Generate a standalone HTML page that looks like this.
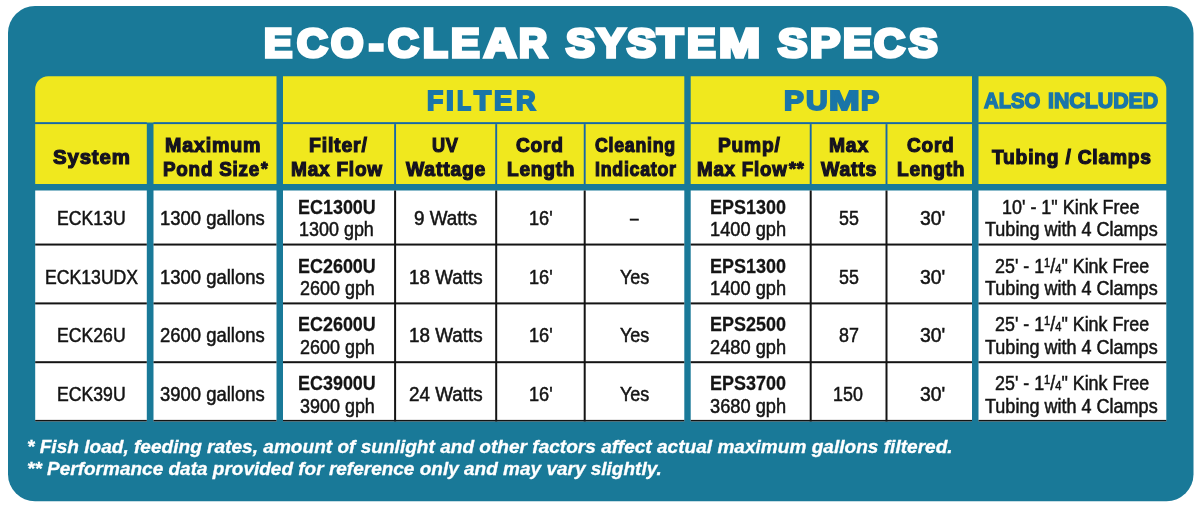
<!DOCTYPE html>
<html><head><meta charset="utf-8"><title>Eco-Clear System Specs</title>
<style>
html,body{margin:0;padding:0;background:#fff;}
body{width:1200px;height:508px;position:relative;overflow:hidden;font-family:"Liberation Sans",sans-serif;}
body>div{position:absolute;}
.t{will-change:transform;}
.t{line-height:1;white-space:nowrap;color:#141414;}
.t>span{display:inline-block;transform-origin:0 0;}
.hv{font-weight:bold;}
.bb{font-weight:bold;}
.fn{font-weight:bold;font-style:italic;}
.fr{font-size:62%;position:relative;top:-0.5em;}
.fd{font-size:62%;}
</style></head><body>
<svg width="1200" height="508" viewBox="0 0 1200 508" style="position:absolute;left:0;top:0;"><rect x="8" y="6" width="1185.5" height="495.2" rx="27" ry="27" fill="#197998"/>
<path d="M35.20,122.50L35.20,89.30A13,13 0 0 1 48.20,76.30L276.50,76.30L276.50,122.50Z" fill="#f0e81e"/>
<path d="M283.00,122.50L283.00,76.30L684.30,76.30L684.30,122.50Z" fill="#f0e81e"/>
<path d="M690.70,122.50L690.70,76.30L972.00,76.30L972.00,122.50Z" fill="#f0e81e"/>
<path d="M978.50,122.50L978.50,76.30L1153.30,76.30A13,13 0 0 1 1166.30,89.30L1166.30,122.50Z" fill="#f0e81e"/>
<rect x="35.20" y="123.90" width="111.60" height="60.10" fill="#f0e81e"/>
<rect x="153.50" y="123.90" width="123.00" height="60.10" fill="#f0e81e"/>
<rect x="283.00" y="123.90" width="401.30" height="60.10" fill="#f0e81e"/>
<rect x="690.70" y="123.90" width="281.30" height="60.10" fill="#f0e81e"/>
<rect x="978.50" y="123.90" width="187.80" height="60.10" fill="#f0e81e"/>
<rect x="35.20" y="122.30" width="111.60" height="1.80" fill="#1667a8"/>
<rect x="153.50" y="122.30" width="123.00" height="1.80" fill="#1667a8"/>
<rect x="283.00" y="122.30" width="401.30" height="1.80" fill="#1667a8"/>
<rect x="690.70" y="122.30" width="281.30" height="1.80" fill="#1667a8"/>
<rect x="978.50" y="122.30" width="187.80" height="1.80" fill="#1667a8"/>
<rect x="394.15" y="124.10" width="1.90" height="59.90" fill="#1667a8"/>
<rect x="495.25" y="124.10" width="1.90" height="59.90" fill="#1667a8"/>
<rect x="583.75" y="124.10" width="1.90" height="59.90" fill="#1667a8"/>
<rect x="809.75" y="124.10" width="1.90" height="59.90" fill="#1667a8"/>
<rect x="885.55" y="124.10" width="1.90" height="59.90" fill="#1667a8"/>
<rect x="35.20" y="190.50" width="111.60" height="230.90" fill="#fff"/>
<rect x="153.50" y="190.50" width="123.00" height="230.90" fill="#fff"/>
<rect x="283.00" y="190.50" width="401.30" height="230.90" fill="#fff"/>
<rect x="690.70" y="190.50" width="281.30" height="230.90" fill="#fff"/>
<rect x="978.50" y="190.50" width="187.80" height="230.90" fill="#fff"/>
<rect x="35.20" y="243.55" width="111.60" height="2.00" fill="#141414"/>
<rect x="153.50" y="243.55" width="123.00" height="2.00" fill="#141414"/>
<rect x="283.00" y="243.55" width="401.30" height="2.00" fill="#141414"/>
<rect x="690.70" y="243.55" width="281.30" height="2.00" fill="#141414"/>
<rect x="978.50" y="243.55" width="187.80" height="2.00" fill="#141414"/>
<rect x="35.20" y="302.40" width="111.60" height="2.00" fill="#141414"/>
<rect x="153.50" y="302.40" width="123.00" height="2.00" fill="#141414"/>
<rect x="283.00" y="302.40" width="401.30" height="2.00" fill="#141414"/>
<rect x="690.70" y="302.40" width="281.30" height="2.00" fill="#141414"/>
<rect x="978.50" y="302.40" width="187.80" height="2.00" fill="#141414"/>
<rect x="35.20" y="361.20" width="111.60" height="2.00" fill="#141414"/>
<rect x="153.50" y="361.20" width="123.00" height="2.00" fill="#141414"/>
<rect x="283.00" y="361.20" width="401.30" height="2.00" fill="#141414"/>
<rect x="690.70" y="361.20" width="281.30" height="2.00" fill="#141414"/>
<rect x="978.50" y="361.20" width="187.80" height="2.00" fill="#141414"/>
<rect x="35.20" y="419.90" width="111.60" height="1.50" fill="#141414"/>
<rect x="153.50" y="419.90" width="123.00" height="1.50" fill="#141414"/>
<rect x="283.00" y="419.90" width="401.30" height="1.50" fill="#141414"/>
<rect x="690.70" y="419.90" width="281.30" height="1.50" fill="#141414"/>
<rect x="978.50" y="419.90" width="187.80" height="1.50" fill="#141414"/>
<rect x="394.10" y="190.50" width="2.00" height="230.90" fill="#141414"/>
<rect x="495.20" y="190.50" width="2.00" height="230.90" fill="#141414"/>
<rect x="583.70" y="190.50" width="2.00" height="230.90" fill="#141414"/>
<rect x="809.70" y="190.50" width="2.00" height="230.90" fill="#141414"/>
<rect x="885.50" y="190.50" width="2.00" height="230.90" fill="#141414"/></svg>
<div class="t hv" style="left:264.21px;top:23.00px;font-size:40.4px;color:#fff;"><span style="transform-origin:0 35.78px;transform:scale(1.0472,1.0129);-webkit-text-stroke:3.6px #fff;">E</span></div>
<div class="t hv" style="left:296.51px;top:23.00px;font-size:40.4px;color:#fff;"><span style="transform-origin:0 35.78px;transform:scale(1.0488,1.0129);-webkit-text-stroke:3.6px #fff;">C</span></div>
<div class="t hv" style="left:331.26px;top:23.00px;font-size:40.4px;color:#fff;"><span style="transform-origin:0 35.78px;transform:scale(1.0315,1.0129);-webkit-text-stroke:3.6px #fff;">O</span></div>
<div class="t hv" style="left:368.77px;top:24.00px;font-size:40.4px;color:#fff;"><span style="transform-origin:0 35.78px;transform:scale(1.0714,1.0129);-webkit-text-stroke:3.6px #fff;">-</span></div>
<div class="t hv" style="left:387.76px;top:23.00px;font-size:40.4px;color:#fff;"><span style="transform-origin:0 35.78px;transform:scale(1.0488,1.0129);-webkit-text-stroke:3.6px #fff;">C</span></div>
<div class="t hv" style="left:423.25px;top:23.00px;font-size:40.4px;color:#fff;"><span style="transform-origin:0 35.78px;transform:scale(1.0000,1.0129);-webkit-text-stroke:3.6px #fff;">L</span></div>
<div class="t hv" style="left:451.10px;top:23.00px;font-size:40.4px;color:#fff;"><span style="transform-origin:0 35.78px;transform:scale(1.0604,1.0129);-webkit-text-stroke:3.6px #fff;">E</span></div>
<div class="t hv" style="left:484.16px;top:23.00px;font-size:40.4px;color:#fff;"><span style="transform-origin:0 35.78px;transform:scale(1.1039,1.0129);-webkit-text-stroke:3.6px #fff;">A</span></div>
<div class="t hv" style="left:519.03px;top:23.00px;font-size:40.4px;color:#fff;"><span style="transform-origin:0 35.78px;transform:scale(0.9642,1.0129);-webkit-text-stroke:3.6px #fff;">R</span></div>
<div class="t hv" style="left:565.82px;top:23.00px;font-size:40.4px;color:#fff;"><span style="transform-origin:0 35.78px;transform:scale(1.0708,1.0129);-webkit-text-stroke:3.6px #fff;">S</span></div>
<div class="t hv" style="left:596.62px;top:23.00px;font-size:40.4px;color:#fff;"><span style="transform-origin:0 35.78px;transform:scale(1.0469,1.0129);-webkit-text-stroke:3.6px #fff;">Y</span></div>
<div class="t hv" style="left:626.68px;top:23.00px;font-size:40.4px;color:#fff;"><span style="transform-origin:0 35.78px;transform:scale(1.0761,1.0129);-webkit-text-stroke:3.6px #fff;">S</span></div>
<div class="t hv" style="left:657.19px;top:23.00px;font-size:40.4px;color:#fff;"><span style="transform-origin:0 35.78px;transform:scale(1.0595,1.0129);-webkit-text-stroke:3.6px #fff;">T</span></div>
<div class="t hv" style="left:687.30px;top:23.00px;font-size:40.4px;color:#fff;"><span style="transform-origin:0 35.78px;transform:scale(1.0623,1.0129);-webkit-text-stroke:3.6px #fff;">E</span></div>
<div class="t hv" style="left:719.09px;top:23.00px;font-size:40.4px;color:#fff;"><span style="transform-origin:0 35.78px;transform:scale(1.2188,1.0129);-webkit-text-stroke:3.6px #fff;">M</span></div>
<div class="t hv" style="left:777.79px;top:23.00px;font-size:40.4px;color:#fff;"><span style="transform-origin:0 35.78px;transform:scale(1.0903,1.0129);-webkit-text-stroke:3.6px #fff;">S</span></div>
<div class="t hv" style="left:809.96px;top:23.00px;font-size:40.4px;color:#fff;"><span style="transform-origin:0 35.78px;transform:scale(1.1215,1.0129);-webkit-text-stroke:3.6px #fff;">P</span></div>
<div class="t hv" style="left:842.50px;top:23.00px;font-size:40.4px;color:#fff;"><span style="transform-origin:0 35.78px;transform:scale(1.0717,1.0129);-webkit-text-stroke:3.6px #fff;">E</span></div>
<div class="t hv" style="left:873.97px;top:23.00px;font-size:40.4px;color:#fff;"><span style="transform-origin:0 35.78px;transform:scale(1.0602,1.0129);-webkit-text-stroke:3.6px #fff;">C</span></div>
<div class="t hv" style="left:908.56px;top:23.00px;font-size:40.4px;color:#fff;"><span style="transform-origin:0 35.78px;transform:scale(1.0619,1.0129);-webkit-text-stroke:3.6px #fff;">S</span></div>
<div class="t hv" style="left:426.77px;top:87.00px;font-size:27.2px;color:#1a75a8;"><span style="transform:scaleX(0.9750);-webkit-text-stroke:2.0px #1a75a8;">F</span></div>
<div class="t hv" style="left:446.12px;top:87.00px;font-size:27.2px;color:#1a75a8;"><span style="transform:scaleX(1.0333);-webkit-text-stroke:2.0px #1a75a8;">I</span></div>
<div class="t hv" style="left:456.87px;top:87.00px;font-size:27.2px;color:#1a75a8;"><span style="transform:scaleX(0.8462);-webkit-text-stroke:2.0px #1a75a8;">L</span></div>
<div class="t hv" style="left:473.87px;top:87.00px;font-size:27.2px;color:#1a75a8;"><span style="transform:scaleX(1.0301);-webkit-text-stroke:2.0px #1a75a8;">T</span></div>
<div class="t hv" style="left:494.25px;top:87.00px;font-size:27.2px;color:#1a75a8;"><span style="transform:scaleX(1.0000);-webkit-text-stroke:2.0px #1a75a8;">E</span></div>
<div class="t hv" style="left:516.15px;top:87.00px;font-size:27.2px;color:#1a75a8;"><span style="transform:scaleX(1.0000);-webkit-text-stroke:2.0px #1a75a8;">R</span></div>
<div class="t hv" style="left:783.78px;top:87.00px;font-size:27.2px;color:#1a75a8;"><span style="transform:scaleX(1.0943);-webkit-text-stroke:2.0px #1a75a8;">P</span></div>
<div class="t hv" style="left:805.95px;top:87.00px;font-size:27.2px;color:#1a75a8;"><span style="transform:scaleX(1.1027);-webkit-text-stroke:2.0px #1a75a8;">U</span></div>
<div class="t hv" style="left:828.99px;top:87.00px;font-size:27.2px;color:#1a75a8;"><span style="transform:scaleX(1.3529);-webkit-text-stroke:2.0px #1a75a8;">M</span></div>
<div class="t hv" style="left:860.50px;top:87.00px;font-size:27.2px;color:#1a75a8;"><span style="transform:scaleX(1.0000);-webkit-text-stroke:2.0px #1a75a8;">P</span></div>
<div class="t hv" style="left:984.36px;top:90.00px;font-size:22.0px;color:#1a75a8;"><span style="transform-origin:0 18.78px;transform:scale(0.9220,1.0219);-webkit-text-stroke:1.5px #1a75a8;">ALSO</span></div>
<div class="t hv" style="left:1048.12px;top:90.00px;font-size:22.0px;color:#1a75a8;"><span style="transform-origin:0 18.78px;transform:scale(0.9699,1.0219);-webkit-text-stroke:1.5px #1a75a8;">INCLUDED</span></div>
<div class="t hv" style="left:53.06px;top:148.00px;font-size:19.6px;color:#15121f;"><span style="transform-origin:0 16.53px;transform:scale(1.0422,1.0318);-webkit-text-stroke:1.15px #15121f;letter-spacing:0.8px;">System</span></div>
<div class="t hv" style="left:165.20px;top:136.00px;font-size:19.6px;color:#15121f;"><span style="transform-origin:0 16.53px;transform:scale(1.0027,1.0318);-webkit-text-stroke:1.15px #15121f;letter-spacing:0.8px;">Maximum</span></div>
<div class="t hv" style="left:163.12px;top:160.00px;font-size:19.6px;color:#15121f;"><span style="transform-origin:0 16.53px;transform:scale(0.9618,1.0318);-webkit-text-stroke:1.15px #15121f;letter-spacing:0.8px;">Pond Size</span></div>
<div class="t hv" style="left:308.50px;top:136.00px;font-size:19.6px;color:#15121f;"><span style="transform-origin:0 16.53px;transform:scale(0.9940,1.0318);-webkit-text-stroke:1.15px #15121f;letter-spacing:0.8px;">Filter/</span></div>
<div class="t hv" style="left:290.81px;top:160.00px;font-size:19.6px;color:#15121f;"><span style="transform-origin:0 16.53px;transform:scale(0.9713,1.0318);-webkit-text-stroke:1.15px #15121f;letter-spacing:0.8px;">Max Flow</span></div>
<div class="t hv" style="left:432.34px;top:136.00px;font-size:19.6px;color:#15121f;"><span style="transform-origin:0 16.53px;transform:scale(0.9274,1.0318);-webkit-text-stroke:1.15px #15121f;letter-spacing:0.8px;">UV</span></div>
<div class="t hv" style="left:406.14px;top:160.00px;font-size:19.6px;color:#15121f;"><span style="transform-origin:0 16.53px;transform:scale(0.9889,1.0318);-webkit-text-stroke:1.15px #15121f;letter-spacing:0.8px;">Wattage</span></div>
<div class="t hv" style="left:516.46px;top:136.00px;font-size:19.6px;color:#15121f;"><span style="transform-origin:0 16.53px;transform:scale(0.9757,1.0318);-webkit-text-stroke:1.15px #15121f;letter-spacing:0.8px;">Cord</span></div>
<div class="t hv" style="left:507.11px;top:160.00px;font-size:19.6px;color:#15121f;"><span style="transform-origin:0 16.53px;transform:scale(0.9744,1.0318);-webkit-text-stroke:1.15px #15121f;letter-spacing:0.8px;">Length</span></div>
<div class="t hv" style="left:594.67px;top:136.00px;font-size:19.6px;color:#15121f;"><span style="transform-origin:0 16.53px;transform:scale(0.9063,1.0318);-webkit-text-stroke:1.15px #15121f;letter-spacing:0.8px;">Cleaning</span></div>
<div class="t hv" style="left:594.95px;top:160.00px;font-size:19.6px;color:#15121f;"><span style="transform-origin:0 16.53px;transform:scale(0.9090,1.0318);-webkit-text-stroke:1.15px #15121f;letter-spacing:0.8px;">Indicator</span></div>
<div class="t hv" style="left:717.91px;top:136.00px;font-size:19.6px;color:#15121f;"><span style="transform-origin:0 16.53px;transform:scale(0.9794,1.0318);-webkit-text-stroke:1.15px #15121f;letter-spacing:0.8px;">Pump/</span></div>
<div class="t hv" style="left:696.82px;top:160.00px;font-size:19.6px;color:#15121f;"><span style="transform-origin:0 16.53px;transform:scale(0.9574,1.0318);-webkit-text-stroke:1.15px #15121f;letter-spacing:0.8px;">Max Flow</span></div>
<div class="t hv" style="left:829.11px;top:136.00px;font-size:19.6px;color:#15121f;"><span style="transform-origin:0 16.53px;transform:scale(0.9850,1.0318);-webkit-text-stroke:1.15px #15121f;letter-spacing:0.8px;">Max</span></div>
<div class="t hv" style="left:821.14px;top:160.00px;font-size:19.6px;color:#15121f;"><span style="transform-origin:0 16.53px;transform:scale(0.9929,1.0318);-webkit-text-stroke:1.15px #15121f;letter-spacing:0.8px;">Watts</span></div>
<div class="t hv" style="left:906.86px;top:136.00px;font-size:19.6px;color:#15121f;"><span style="transform-origin:0 16.53px;transform:scale(0.9714,1.0318);-webkit-text-stroke:1.15px #15121f;letter-spacing:0.8px;">Cord</span></div>
<div class="t hv" style="left:897.11px;top:160.00px;font-size:19.6px;color:#15121f;"><span style="transform-origin:0 16.53px;transform:scale(0.9744,1.0318);-webkit-text-stroke:1.15px #15121f;letter-spacing:0.8px;">Length</span></div>
<div class="t hv" style="left:991.99px;top:148.00px;font-size:19.6px;color:#15121f;"><span style="transform-origin:0 16.53px;transform:scale(0.9809,1.0318);-webkit-text-stroke:1.15px #15121f;letter-spacing:0.8px;">Tubing / Clamps</span></div>
<div class="t hv" style="left:260.99px;top:160.00px;font-size:18.6px;color:#15121f;"><span style="transform:scaleX(0.9257);-webkit-text-stroke:1.15px #15121f;letter-spacing:0.8px;">*</span></div>
<div class="t hv" style="left:789.13px;top:160.00px;font-size:18.6px;color:#15121f;"><span style="transform:scaleX(0.9672);-webkit-text-stroke:1.15px #15121f;letter-spacing:0.8px;">**</span></div>
<div class="t bd" style="left:57.26px;top:209.00px;font-size:19.4px;"><span style="transform-origin:0 16.24px;transform:scale(0.9096,0.9966);-webkit-text-stroke:0.5px #141414;">ECK13U</span></div>
<div class="t bd" style="left:160.15px;top:209.00px;font-size:19.4px;"><span style="transform-origin:0 16.24px;transform:scale(0.9521,0.9966);-webkit-text-stroke:0.5px #141414;">1300 gallons</span></div>
<div class="t bd bb" style="left:297.77px;top:198.00px;font-size:19.4px;"><span style="transform-origin:0 16.25px;transform:scale(0.9252,1.0149);-webkit-text-stroke:0.25px #141414;">EC1300U</span></div>
<div class="t bd" style="left:299.27px;top:220.00px;font-size:19.4px;"><span style="transform-origin:0 16.24px;transform:scale(0.9253,0.9966);-webkit-text-stroke:0.5px #141414;">1300 gph</span></div>
<div class="t bd" style="left:414.01px;top:209.00px;font-size:19.4px;"><span style="transform-origin:0 16.24px;transform:scale(0.9712,0.9966);-webkit-text-stroke:0.5px #141414;">9 Watts</span></div>
<div class="t bd" style="left:529.36px;top:209.00px;font-size:19.4px;"><span style="transform-origin:0 16.24px;transform:scale(0.9362,0.9966);-webkit-text-stroke:0.5px #141414;">16'</span></div>
<div class="t bd" style="left:630.00px;top:209.00px;font-size:19.4px;"><span style="transform-origin:0 16.24px;transform:scale(0.8000,0.9966);-webkit-text-stroke:0.5px #141414;">–</span></div>
<div class="t bd bb" style="left:710.47px;top:198.00px;font-size:19.4px;"><span style="transform-origin:0 16.25px;transform:scale(0.9271,1.0149);-webkit-text-stroke:0.25px #141414;">EPS1300</span></div>
<div class="t bd" style="left:709.86px;top:220.00px;font-size:19.4px;"><span style="transform-origin:0 16.24px;transform:scale(0.9405,0.9966);-webkit-text-stroke:0.5px #141414;">1400 gph</span></div>
<div class="t bd" style="left:838.54px;top:209.00px;font-size:19.4px;"><span style="transform-origin:0 16.24px;transform:scale(0.9220,0.9966);-webkit-text-stroke:0.5px #141414;">55</span></div>
<div class="t bd" style="left:919.70px;top:209.00px;font-size:19.4px;"><span style="transform-origin:0 16.24px;transform:scale(1.0000,0.9966);-webkit-text-stroke:0.5px #141414;">30'</span></div>
<div class="t bd" style="left:1002.37px;top:198.00px;font-size:19.4px;"><span style="transform-origin:0 16.24px;transform:scale(0.9259,0.9966);-webkit-text-stroke:0.5px #141414;">10' - 1" Kink Free</span></div>
<div class="t bd" style="left:985.40px;top:220.00px;font-size:19.4px;"><span style="transform-origin:0 16.24px;transform:scale(0.9296,0.9966);-webkit-text-stroke:0.5px #141414;">Tubing with 4 Clamps</span></div>
<div class="t bd" style="left:44.53px;top:268.00px;font-size:19.4px;"><span style="transform-origin:0 16.24px;transform:scale(0.9096,0.9966);-webkit-text-stroke:0.5px #141414;">ECK13UDX</span></div>
<div class="t bd" style="left:160.15px;top:268.00px;font-size:19.4px;"><span style="transform-origin:0 16.24px;transform:scale(0.9521,0.9966);-webkit-text-stroke:0.5px #141414;">1300 gallons</span></div>
<div class="t bd bb" style="left:297.77px;top:257.00px;font-size:19.4px;"><span style="transform-origin:0 16.25px;transform:scale(0.9252,1.0149);-webkit-text-stroke:0.25px #141414;">EC2600U</span></div>
<div class="t bd" style="left:299.51px;top:279.00px;font-size:19.4px;"><span style="transform-origin:0 16.24px;transform:scale(0.9253,0.9966);-webkit-text-stroke:0.5px #141414;">2600 gph</span></div>
<div class="t bd" style="left:408.55px;top:268.00px;font-size:19.4px;"><span style="transform-origin:0 16.24px;transform:scale(0.9712,0.9966);-webkit-text-stroke:0.5px #141414;">18 Watts</span></div>
<div class="t bd" style="left:529.36px;top:268.00px;font-size:19.4px;"><span style="transform-origin:0 16.24px;transform:scale(0.9362,0.9966);-webkit-text-stroke:0.5px #141414;">16'</span></div>
<div class="t bd" style="left:619.92px;top:268.00px;font-size:19.4px;"><span style="transform-origin:0 16.24px;transform:scale(0.9265,0.9966);-webkit-text-stroke:0.5px #141414;">Yes</span></div>
<div class="t bd bb" style="left:710.47px;top:257.00px;font-size:19.4px;"><span style="transform-origin:0 16.25px;transform:scale(0.9271,1.0149);-webkit-text-stroke:0.25px #141414;">EPS1300</span></div>
<div class="t bd" style="left:709.86px;top:279.00px;font-size:19.4px;"><span style="transform-origin:0 16.24px;transform:scale(0.9405,0.9966);-webkit-text-stroke:0.5px #141414;">1400 gph</span></div>
<div class="t bd" style="left:838.54px;top:268.00px;font-size:19.4px;"><span style="transform-origin:0 16.24px;transform:scale(0.9220,0.9966);-webkit-text-stroke:0.5px #141414;">55</span></div>
<div class="t bd" style="left:919.70px;top:268.00px;font-size:19.4px;"><span style="transform-origin:0 16.24px;transform:scale(1.0000,0.9966);-webkit-text-stroke:0.5px #141414;">30'</span></div>
<div class="t bd" style="left:994.54px;top:257.00px;font-size:19.4px;"><span style="transform-origin:0 16.24px;transform:scale(0.9215,0.9966);-webkit-text-stroke:0.5px #141414;">25' - 1<span class="fr">1</span>/<span class="fd">4</span>" Kink Free</span></div>
<div class="t bd" style="left:985.40px;top:279.00px;font-size:19.4px;"><span style="transform-origin:0 16.24px;transform:scale(0.9296,0.9966);-webkit-text-stroke:0.5px #141414;">Tubing with 4 Clamps</span></div>
<div class="t bd" style="left:57.26px;top:326.00px;font-size:19.4px;"><span style="transform-origin:0 16.24px;transform:scale(0.9096,0.9966);-webkit-text-stroke:0.5px #141414;">ECK26U</span></div>
<div class="t bd" style="left:160.39px;top:326.00px;font-size:19.4px;"><span style="transform-origin:0 16.24px;transform:scale(0.9521,0.9966);-webkit-text-stroke:0.5px #141414;">2600 gallons</span></div>
<div class="t bd bb" style="left:297.77px;top:315.00px;font-size:19.4px;"><span style="transform-origin:0 16.25px;transform:scale(0.9252,1.0149);-webkit-text-stroke:0.25px #141414;">EC2600U</span></div>
<div class="t bd" style="left:299.51px;top:338.00px;font-size:19.4px;"><span style="transform-origin:0 16.24px;transform:scale(0.9253,0.9966);-webkit-text-stroke:0.5px #141414;">2600 gph</span></div>
<div class="t bd" style="left:408.55px;top:326.00px;font-size:19.4px;"><span style="transform-origin:0 16.24px;transform:scale(0.9712,0.9966);-webkit-text-stroke:0.5px #141414;">18 Watts</span></div>
<div class="t bd" style="left:529.36px;top:326.00px;font-size:19.4px;"><span style="transform-origin:0 16.24px;transform:scale(0.9362,0.9966);-webkit-text-stroke:0.5px #141414;">16'</span></div>
<div class="t bd" style="left:619.92px;top:326.00px;font-size:19.4px;"><span style="transform-origin:0 16.24px;transform:scale(0.9265,0.9966);-webkit-text-stroke:0.5px #141414;">Yes</span></div>
<div class="t bd bb" style="left:710.47px;top:315.00px;font-size:19.4px;"><span style="transform-origin:0 16.25px;transform:scale(0.9271,1.0149);-webkit-text-stroke:0.25px #141414;">EPS2500</span></div>
<div class="t bd" style="left:710.09px;top:338.00px;font-size:19.4px;"><span style="transform-origin:0 16.24px;transform:scale(0.9405,0.9966);-webkit-text-stroke:0.5px #141414;">2480 gph</span></div>
<div class="t bd" style="left:838.54px;top:326.00px;font-size:19.4px;"><span style="transform-origin:0 16.24px;transform:scale(0.9220,0.9966);-webkit-text-stroke:0.5px #141414;">87</span></div>
<div class="t bd" style="left:919.70px;top:326.00px;font-size:19.4px;"><span style="transform-origin:0 16.24px;transform:scale(1.0000,0.9966);-webkit-text-stroke:0.5px #141414;">30'</span></div>
<div class="t bd" style="left:994.54px;top:315.00px;font-size:19.4px;"><span style="transform-origin:0 16.24px;transform:scale(0.9215,0.9966);-webkit-text-stroke:0.5px #141414;">25' - 1<span class="fr">1</span>/<span class="fd">4</span>" Kink Free</span></div>
<div class="t bd" style="left:985.40px;top:338.00px;font-size:19.4px;"><span style="transform-origin:0 16.24px;transform:scale(0.9296,0.9966);-webkit-text-stroke:0.5px #141414;">Tubing with 4 Clamps</span></div>
<div class="t bd" style="left:57.26px;top:385.00px;font-size:19.4px;"><span style="transform-origin:0 16.24px;transform:scale(0.9096,0.9966);-webkit-text-stroke:0.5px #141414;">ECK39U</span></div>
<div class="t bd" style="left:160.39px;top:385.00px;font-size:19.4px;"><span style="transform-origin:0 16.24px;transform:scale(0.9521,0.9966);-webkit-text-stroke:0.5px #141414;">3900 gallons</span></div>
<div class="t bd bb" style="left:297.77px;top:374.00px;font-size:19.4px;"><span style="transform-origin:0 16.25px;transform:scale(0.9252,1.0149);-webkit-text-stroke:0.25px #141414;">EC3900U</span></div>
<div class="t bd" style="left:299.51px;top:397.00px;font-size:19.4px;"><span style="transform-origin:0 16.24px;transform:scale(0.9253,0.9966);-webkit-text-stroke:0.5px #141414;">3900 gph</span></div>
<div class="t bd" style="left:408.79px;top:385.00px;font-size:19.4px;"><span style="transform-origin:0 16.24px;transform:scale(0.9712,0.9966);-webkit-text-stroke:0.5px #141414;">24 Watts</span></div>
<div class="t bd" style="left:529.36px;top:385.00px;font-size:19.4px;"><span style="transform-origin:0 16.24px;transform:scale(0.9362,0.9966);-webkit-text-stroke:0.5px #141414;">16'</span></div>
<div class="t bd" style="left:619.92px;top:385.00px;font-size:19.4px;"><span style="transform-origin:0 16.24px;transform:scale(0.9265,0.9966);-webkit-text-stroke:0.5px #141414;">Yes</span></div>
<div class="t bd bb" style="left:710.47px;top:374.00px;font-size:19.4px;"><span style="transform-origin:0 16.25px;transform:scale(0.9271,1.0149);-webkit-text-stroke:0.25px #141414;">EPS3700</span></div>
<div class="t bd" style="left:710.09px;top:397.00px;font-size:19.4px;"><span style="transform-origin:0 16.24px;transform:scale(0.9405,0.9966);-webkit-text-stroke:0.5px #141414;">3680 gph</span></div>
<div class="t bd" style="left:833.24px;top:385.00px;font-size:19.4px;"><span style="transform-origin:0 16.24px;transform:scale(0.9220,0.9966);-webkit-text-stroke:0.5px #141414;">150</span></div>
<div class="t bd" style="left:919.70px;top:385.00px;font-size:19.4px;"><span style="transform-origin:0 16.24px;transform:scale(1.0000,0.9966);-webkit-text-stroke:0.5px #141414;">30'</span></div>
<div class="t bd" style="left:994.54px;top:374.00px;font-size:19.4px;"><span style="transform-origin:0 16.24px;transform:scale(0.9215,0.9966);-webkit-text-stroke:0.5px #141414;">25' - 1<span class="fr">1</span>/<span class="fd">4</span>" Kink Free</span></div>
<div class="t bd" style="left:985.40px;top:397.00px;font-size:19.4px;"><span style="transform-origin:0 16.24px;transform:scale(0.9296,0.9966);-webkit-text-stroke:0.5px #141414;">Tubing with 4 Clamps</span></div>
<div class="t fn" style="left:27.37px;top:438.00px;font-size:18.0px;color:#fff;"><span style="transform-origin:0 15.25px;transform:scale(1.0593,1.0249);-webkit-text-stroke:0.3px #fff;">* Fish load, feeding rates, amount of sunlight and other factors affect actual maximum gallons filtered.</span></div>
<div class="t fn" style="left:27.37px;top:460.00px;font-size:18.0px;color:#fff;"><span style="transform-origin:0 15.25px;transform:scale(1.0553,1.0249);-webkit-text-stroke:0.3px #fff;">** Performance data provided for reference only and may vary slightly.</span></div>
</body></html>
